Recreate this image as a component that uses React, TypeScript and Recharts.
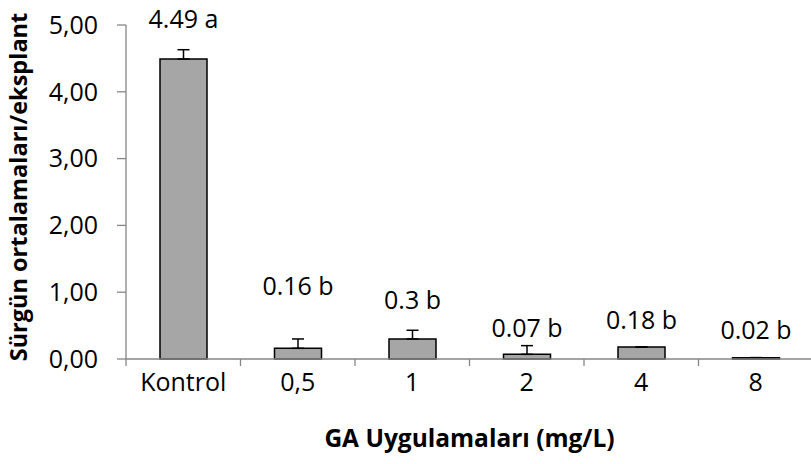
import React from 'react';
import { BarChart, Bar, XAxis, YAxis, ErrorBar, LabelList } from 'recharts';

const categories = ['Kontrol', '0,5', '1', '2', '4', '8'];
const means = [4.49, 0.16, 0.3, 0.07, 0.18, 0.02];
const errors = [0.14, 0.14, 0.13, 0.13, 0, 0];
const meanTexts = ['4.49', '0.16', '0.3', '0.07', '0.18', '0.02'];
const letters = ['a', 'b', 'b', 'b', 'b', 'b'];
const yTicks = [0, 1, 2, 3, 4, 5];
const xTitle = 'GA Uygulamaları (mg/L)';
const yTitle = 'Sürgün ortalamaları/eksplant';

const data = categories.map((name, i) => ({
  name,
  mean: means[i],
  err: [0, errors[i]],
  label: `${meanTexts[i]} ${letters[i]}`,
}));

// layout / style constants
const FONT = '"Open Sans", "Liberation Sans", sans-serif';
const AXIS = '#868686';
const LABEL_RISE = [32, 54, 31, 19, 28, 29];
const CHART_W = 813;
const CHART_H = 464;
const Y_AXIS_W = 126;

const XTick = (props: any) => {
  const { x, y, payload } = props;
  const half = payload && payload.offset ? payload.offset : (CHART_W - Y_AXIS_W) / categories.length / 2;
  return (
    <g>
      <line x1={x - half} x2={x - half} y1={y} y2={y + 7} stroke={AXIS} strokeWidth={1.3} />
      <text x={x} y={y + 32} textAnchor="middle" fontFamily={FONT} fontSize={25} fill="#000">
        {payload.value}
      </text>
    </g>
  );
};

const YTitle = (props: any) => {
  const vb = props.viewBox || { x: 0, y: 25, width: 126, height: 334 };
  const cx = vb.x + 18;
  const cy = vb.y + vb.height / 2 - 5;
  return (
    <text
      x={cx}
      y={cy}
      transform={`rotate(-90, ${cx}, ${cy})`}
      textAnchor="middle"
      dominantBaseline="central"
      fontFamily={FONT}
      fontWeight="bold"
      fontSize={23.5}
      fill="#000"
    >
      {yTitle}
    </text>
  );
};

const XTitle = (props: any) => {
  const vb = props.viewBox || { x: 126, y: 359, width: 687, height: 105 };
  const cx = vb.x + vb.width / 2;
  const cy = vb.y + 78;
  return (
    <text x={cx} y={cy} textAnchor="middle" dominantBaseline="central" fontFamily={FONT} fontWeight="bold" fontSize={24.5} fill="#000">
      {xTitle}
    </text>
  );
};

const renderLabel = (props: any) => {
  const { x, y, width, height, index, value } = props;
  const h = Number(height) || 0;
  const pxPerUnit = means[index] ? h / means[index] : 0;
  const top = Number(y) - errors[index] * pxPerUnit;
  const cy = top - LABEL_RISE[index];
  return (
    <text
      x={Number(x) + Number(width) / 2}
      y={cy}
      dominantBaseline="central"
      textAnchor="middle"
      fontFamily={FONT}
      fontSize={25}
      fill="#000"
    >
      {value}
    </text>
  );
};

export default function App() {
  return (
    <div style={{ position: 'absolute', left: 0, top: 0, width: 811, height: 464, overflow: 'hidden', background: '#fff' }}>
      <BarChart width={CHART_W} height={CHART_H} data={data} margin={{ top: 25, right: 0, bottom: 0, left: 0 }}>
        <XAxis
          dataKey="name"
          height={105}
          axisLine={{ stroke: AXIS, strokeWidth: 1.3 }}
          tickLine={false}
          tickSize={0}
          tickMargin={0}
          tick={<XTick />}
          interval={0}
          label={<XTitle />}
        />
        <YAxis
          width={Y_AXIS_W}
          domain={[0, 5]}
          ticks={yTicks}
          interval={0}
          axisLine={{ stroke: AXIS, strokeWidth: 1.3 }}
          tickLine={{ stroke: AXIS, strokeWidth: 1.3 }}
          tickSize={9}
          tickMargin={19}
          tickFormatter={(v: number) => v.toFixed(2).replace('.', ',')}
          tick={{ fill: '#000', fontSize: 25, fontFamily: FONT }}
          label={<YTitle />}
        />
        <Bar dataKey="mean" fill="#a6a6a6" stroke="#000" strokeWidth={1.5} barSize={47} isAnimationActive={false}>
          <ErrorBar dataKey="err" direction="y" width={6} stroke="#000" strokeWidth={1.5} />
          <LabelList dataKey="label" content={renderLabel} />
        </Bar>
      </BarChart>
    </div>
  );
}
